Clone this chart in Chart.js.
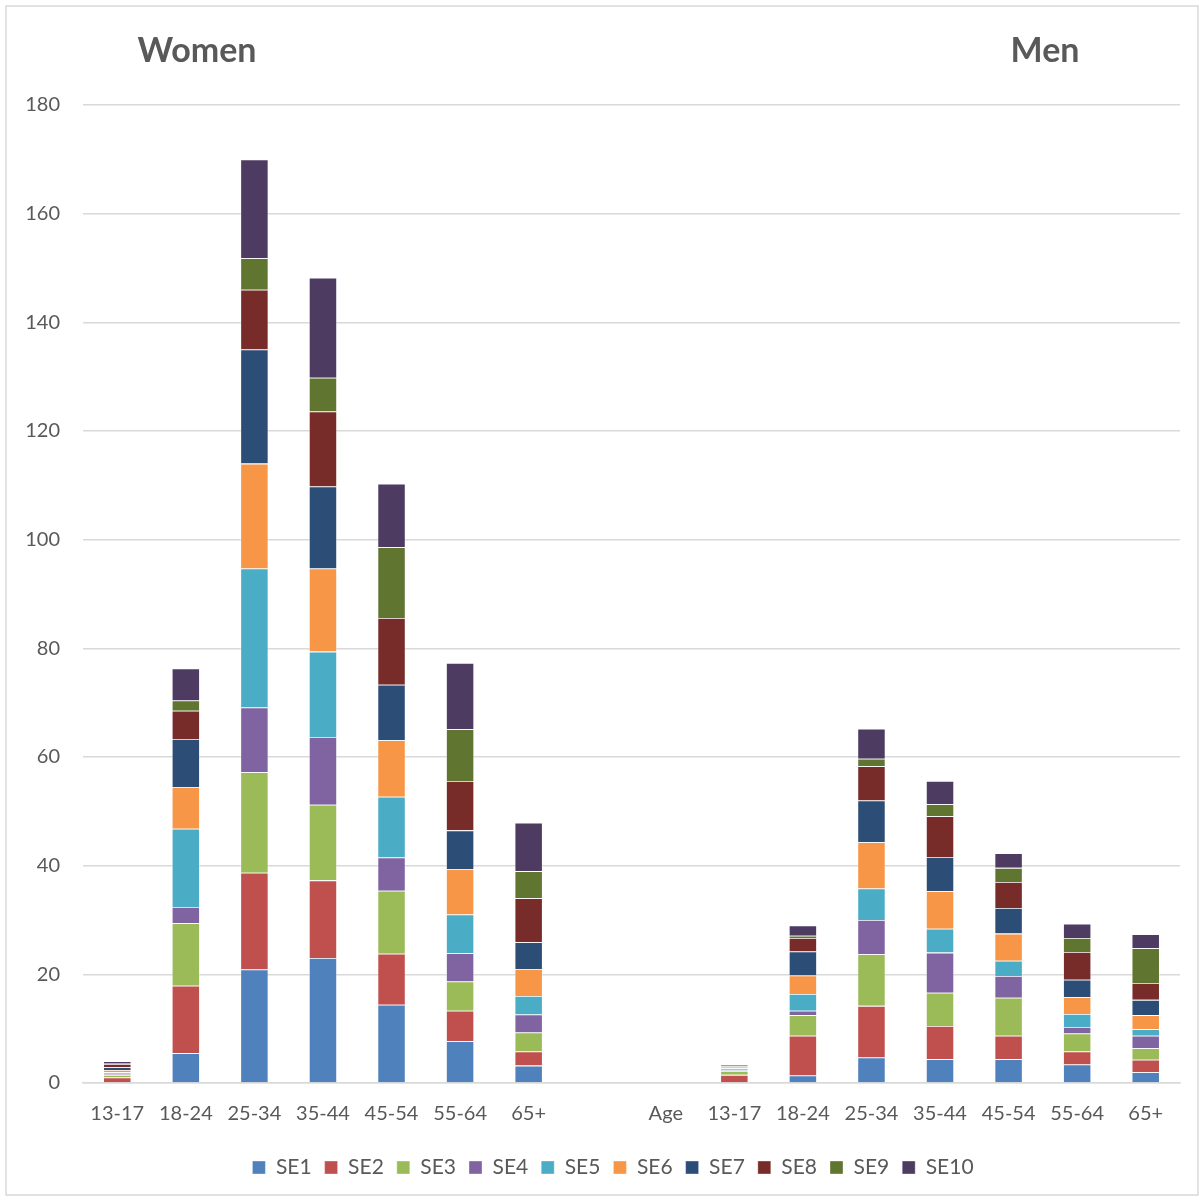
<!DOCTYPE html>
<html>
<head>
<meta charset="utf-8">
<script src="https://cdn.jsdelivr.net/npm/chart.js@4/dist/chart.umd.min.js"></script>
<style>
  html, body { margin: 0; padding: 0; background: #fff; }
  #wrap { width: 1204px; height: 1199px; }
</style>
</head>
<body>
<div id="wrap"><canvas id="chart" width="1204" height="1199"></canvas></div>
<script>
// Stacked age/gender chart -- women block, spacer, "Age" marker, men block

// --- Categories (index 7 is an empty spacer, index 8 carries the "Age" label) ---
const categories = ['13-17', '18-24', '25-34', '35-44', '45-54', '55-64', '65+', '', 'Age',
                    '13-17', '18-24', '25-34', '35-44', '45-54', '55-64', '65+'];

// --- Series values (women x7, null, null, men x7) ---
const se1  = [0,   5.5, 20.9, 23.0, 14.4,  7.7, 3.2, null, null, 0,   1.4, 4.7, 4.4, 4.4, 3.4, 2.0];
const se2  = [1.0, 12.4, 17.8, 14.3, 9.4,  5.6, 2.6, null, null, 1.5, 7.3, 9.5, 6.1, 4.3, 2.4, 2.3];
const se3  = [0.5, 11.5, 18.5, 13.9, 11.6, 5.4, 3.5, null, null, 0.7, 3.8, 9.5, 6.1, 7.0, 3.3, 2.1];
const se4  = [0.2, 3.0, 11.9, 12.5, 6.1,  5.2, 3.3, null, null, 0.1, 0.8, 6.3, 7.4, 4.0, 1.2, 2.3];
const se5  = [0.3, 14.4, 25.6, 15.7, 11.2, 7.1, 3.4, null, null, 0.1, 3.1, 5.8, 4.4, 2.8, 2.4, 1.2];
const se6  = [0.4, 7.7, 19.3, 15.3, 10.4, 8.4, 5.0, null, null, 0.3, 3.4, 8.5, 6.9, 5.0, 3.1, 2.6];
const se7  = [0.5, 8.8, 21.0, 15.1, 10.2, 7.1, 4.9, null, null, 0.2, 4.4, 7.7, 6.3, 4.7, 3.2, 2.8];
const se8  = [0.6, 5.2, 11.0, 13.8, 12.3, 9.1, 8.1, null, null, 0.1, 2.5, 6.3, 7.5, 4.8, 5.1, 3.1];
const se9  = [0.2, 1.9, 5.8,  6.2, 13.0,  9.5, 5.0, null, null, 0.1, 0.4, 1.4, 2.2, 2.6, 2.6, 6.4];
const se10 = [0.3, 5.9, 18.2, 18.4, 11.7, 12.2, 8.9, null, null, 0.2, 1.9, 5.5, 4.3, 2.7, 2.6, 2.6];

const seriesNames = ['SE1', 'SE2', 'SE3', 'SE4', 'SE5', 'SE6', 'SE7', 'SE8', 'SE9', 'SE10'];
const seriesValues = [se1, se2, se3, se4, se5, se6, se7, se8, se9, se10];
const seriesColors = ['#4F81BD', '#C0504D', '#9BBB59', '#8064A2', '#4BACC6',
                      '#F79646', '#2C4D75', '#772C2A', '#5F7530', '#4D3B62'];

// --- Y axis ---
const yMin = 0;
const yMax = 180;
const yStep = 20;

const textColor = '#595959';
const gridColor = '#d9d9d9';
const fontFamily = 'Lato, "Open Sans", sans-serif';

// Group titles + outer frame, drawn like Excel's chart-area border
const decorPlugin = {
  id: 'decor',
  afterLayout(chart) {
    // nudge the legend a little right of the canvas centre, as in the source
    const legend = chart.legend;
    if (legend) {
      const shift = (chart.width / 2 + 11) - (legend.left + legend.right) / 2;
      legend.left += shift;
      legend.right += shift;
    }
  },
  beforeDraw(chart) {
    const ctx = chart.ctx;
    ctx.save();
    ctx.fillStyle = '#ffffff';
    ctx.fillRect(0, 0, chart.width, chart.height);
    ctx.strokeStyle = gridColor;
    ctx.lineWidth = 1.5;
    ctx.strokeRect(6, 6, chart.width - 12, chart.height - 10);
    ctx.restore();
  },
  afterDraw(chart) {
    const ctx = chart.ctx;
    ctx.save();
    ctx.fillStyle = textColor;
    ctx.font = 'bold 34px ' + fontFamily;
    ctx.textAlign = 'center';
    ctx.textBaseline = 'middle';
    ctx.fillText('Women', 197, 51);
    ctx.fillText('Men', 1045, 51);
    ctx.restore();
  }
};

const datasets = seriesNames.map((name, i) => ({
  label: name,
  data: seriesValues[i],
  backgroundColor: seriesColors[i],
  borderColor: 'rgba(255,255,255,0.45)',
  borderWidth: 0.8,
  categoryPercentage: 1.0,
  barPercentage: 0.41,
}));

new Chart(document.getElementById('chart'), {
  type: 'bar',
  data: { labels: categories, datasets },
  plugins: [decorPlugin],
  options: {
    responsive: false,
    animation: false,
    layout: { padding: { top: 105, right: 24, bottom: 11, left: 0 } },
    plugins: {
      title: { display: false },
      tooltip: { enabled: false },
      legend: {
        position: 'bottom',
        labels: {
          boxWidth: 13,
          boxHeight: 13,
          padding: 13,
          color: textColor,
          font: { family: fontFamily, size: 21 },
        },
      },
    },
    scales: {
      x: {
        stacked: true,
        grid: { display: false },
        border: { display: true, color: gridColor, width: 1.5 },
        ticks: {
          color: textColor,
          font: { family: fontFamily, size: 20 },
          padding: 11,
          maxRotation: 0,
          autoSkip: false,
        },
        afterFit(scale) { scale.height = 61; },
      },
      y: {
        stacked: true,
        min: yMin,
        max: yMax,
        grid: { color: gridColor, lineWidth: 1.5, drawTicks: false },
        border: { display: false },
        ticks: {
          stepSize: yStep,
          color: textColor,
          font: { family: fontFamily, size: 20 },
          padding: 23,
        },
        afterFit(scale) { scale.width = 83; },
      },
    },
  },
});
</script>
</body>
</html>
